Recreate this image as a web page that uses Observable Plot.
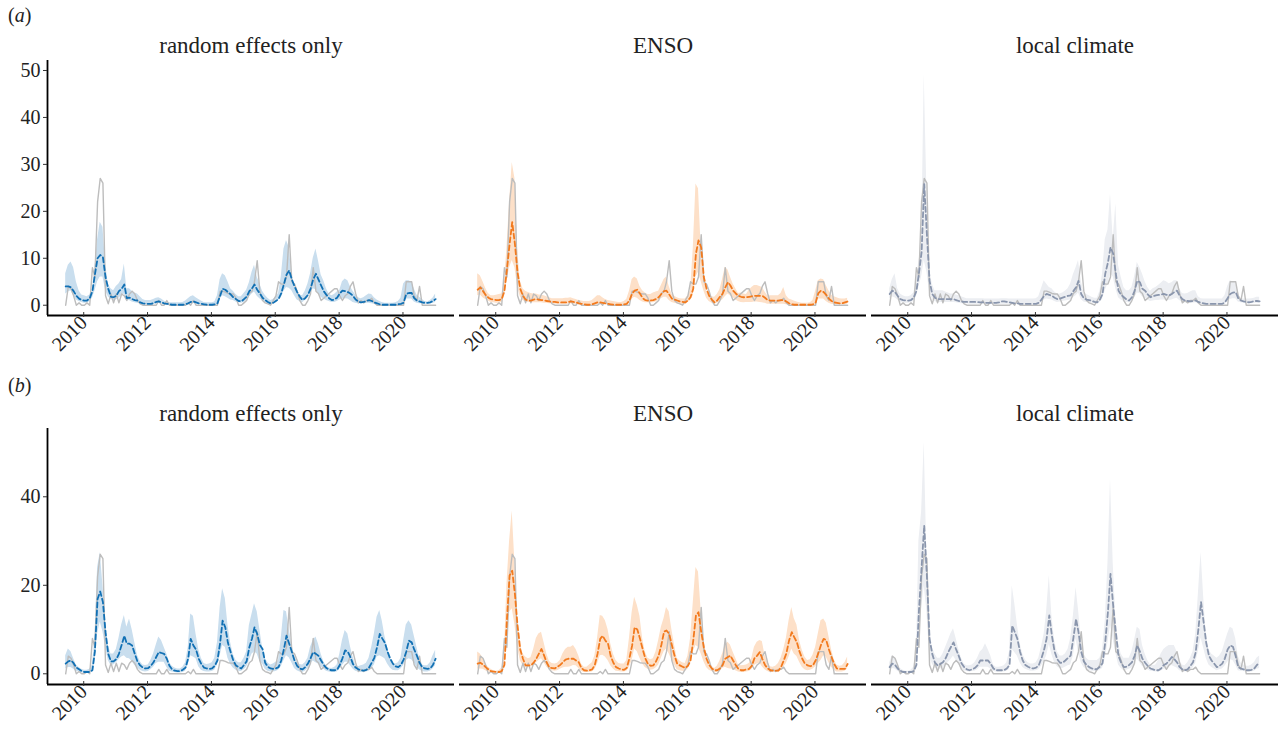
<!DOCTYPE html>
<html><head><meta charset="utf-8">
<script src="https://cdn.jsdelivr.net/npm/d3@7"></script>
<script src="https://cdn.jsdelivr.net/npm/@observablehq/plot@0.6"></script>
<style>
body{margin:0;background:#fff;font-family:"Liberation Serif","Times New Roman",serif;color:#222;}
#wrap{position:relative;width:1280px;height:745px;overflow:hidden;}
.tag{position:absolute;left:8px;font-size:20px;line-height:20px;}
.row{position:absolute;left:0;}
</style></head><body>
<div id="wrap">
<div class="tag" style="top:5px">(<i>a</i>)</div>
<div class="row" id="rowA" style="top:25px"></div>
<div class="tag" style="top:375px">(<i>b</i>)</div>
<div class="row" id="rowB" style="top:393px"></div>
</div>
<script>
// ---- categories / ticks ----
const models = ["random effects only", "ENSO", "local climate"];
const startYear = 2009, startMonth = 3; // April 2009, monthly, 140 months
const nMonths = 140;
const xTickYears = [2010, 2012, 2014, 2016, 2018, 2020];
const yTicksA = [0, 10, 20, 30, 40, 50];
const yTicksB = [0, 20, 40];

// ---- observed cases (same in every panel) ----
const obs = [
0,4,3.5,2,0,0.5,0,0,0.5,0,
8,6,22,27,26,2,0.3,2.4,0.5,2.4,
0.5,2.4,2,1,2.4,3,2.4,1,0.3,0,
0,0,0,0,0,1,0,0,1,0,
0,0,0,0,0,0,0.5,0,1,0,
0,0,0,0,0,0,0,0,3,3,
2.8,2.5,2.4,2.4,1.5,0,0,0.5,1,2.5,
3,5,9.5,3,1,0.5,0.3,0,1,2,
5,4.5,4.5,6,15,5,4.5,3,1,0,
0,1,2.4,8,3,2.5,1,1.5,2,2.5,
3,3.5,3.5,2,1,2,2.5,4,5,2.5,
0.5,1,0.5,1,1,1.5,0.5,0,0,0,
0,0,0,0,0,0,0,0,5,5,
5,2,1,4,0,0,0,0,0,0];

// ---- (a) random effects only ----
const a_re_mean = [
4,4,3.8,3,2,1.4,1.1,1,1,1.5,
3,6.5,10,10.7,10.2,6,3.5,1.8,1.7,2,
3,3.5,4.4,1.5,1.6,1.3,1.1,1,0.6,0.4,
0.3,0.3,0.3,0.4,0.7,0.8,0.6,0.4,0.3,0.2,
0.1,0.1,0.1,0.1,0.1,0.2,0.4,0.7,0.8,0.6,
0.4,0.3,0.2,0.1,0.1,0.1,0.2,0.4,2,3.5,
3.3,2.8,2.3,1.7,1.3,0.9,0.8,1.3,1.8,3,
3.6,4.4,3.3,2.5,1.6,1.1,0.7,0.4,0.5,0.9,
1.3,2.5,4.5,6.5,7.4,5.5,4,2.8,1.8,1.1,
1.5,2.2,3.5,5.5,6.7,5.5,4.2,3,2.2,1.5,
1.1,1.2,1.6,2.5,3.1,3,2.8,2.5,2,1.2,
0.8,0.6,0.7,0.9,1.1,0.9,0.6,0.4,0.2,0.1,
0.1,0.1,0.1,0.1,0.1,0.2,0.3,0.5,2.4,2.6,
2.6,1.5,1,0.8,0.6,0.5,0.5,0.6,0.9,1.3];
const a_re_hi = [
6.7,8.5,9.2,8,5,3.1,2.2,2,1.8,2.2,
3,8,14,17.7,16.6,9,4.5,3.5,3.1,4,
4.5,5.5,8.8,3.5,3.5,3,2.6,2.4,1.8,1.2,
1,1,1,1.2,1.5,1.6,1.3,0.9,0.6,0.5,
0.5,0.5,0.5,0.5,0.6,0.9,1.4,1.8,2,1.6,
1.2,0.9,0.6,0.5,0.5,0.5,0.7,2,5.5,6.7,
6.3,5,3.5,3,2.3,1.8,1.8,2.5,3.2,4.8,
7,8.5,6,4.5,3,2.1,1.5,1,1.2,1.8,
2.5,6,12,13.8,12.3,6.7,4.2,2.8,2.2,2,
3,4.5,6.7,10,12,9.5,6.5,5.2,3.5,2.4,
2,2.3,2.8,3.2,5,5.6,5.2,4,3,2.2,
1.6,1.4,1.6,2,2.4,2.3,1.6,1.1,0.8,0.6,
0.4,0.4,0.4,0.4,0.5,0.8,1.5,4.5,5.2,5.2,
4.9,3.5,2.2,1.7,1.2,0.8,0.7,1,1.5,2.4];
const a_re_lo = [
2.4,2.8,3.1,2,1.1,0.8,0.6,0.4,0.4,0.8,
1.5,3,5,6,6,3.2,1.8,1.2,1,1.1,
1.5,2,2.4,0.9,1,0.7,0.5,0.4,0.3,0.2,
0.1,0.1,0.1,0.2,0.3,0.4,0.3,0.2,0.1,0,
0,0,0,0,0,0.1,0.2,0.3,0.4,0.3,
0.2,0.1,0,0,0,0,0,0.2,1.2,2,
1.8,1.5,1.1,1,0.7,0.5,0.4,0.6,1,1.7,
2.4,2.8,1.9,1.4,0.9,0.6,0.3,0.1,0.3,0.6,
1,1.6,3,3.8,3.6,3.1,2,1.1,0.8,0.5,
1,1.5,2.5,3.5,3.3,2.5,1.7,1.3,1,0.8,
0.6,0.6,0.8,1.1,1.3,1.4,1.3,1,0.6,0.4,
0.3,0.3,0.3,0.4,0.4,0.3,0.2,0.1,0,0,
0,0,0,0,0,0,0,0.3,1.3,1.3,
1.3,0.7,0.4,0.3,0.3,0.2,0.2,0.3,0.4,0.6];

// ---- (a) ENSO ----
const a_enso_mean = [
3.3,3.8,3,2.2,1.6,1.3,1.2,1.1,1.1,1.3,
3,7.5,13,17.7,13,7,3.5,2,1.2,1,
1,1.2,1.3,1.2,1.1,1,0.9,0.8,0.7,0.7,
0.6,0.6,0.6,0.6,0.7,0.8,0.7,0.6,0.4,0.3,
0.2,0.1,0.1,0.2,0.4,0.6,0.6,0.5,0.4,0.3,
0.2,0.1,0.1,0.1,0.1,0.2,0.3,1,2.5,3.1,
3.3,2.5,1.5,1.1,1,1,1.1,1.3,1.7,2.4,
3,3.1,2.3,1.4,1.2,1,0.8,0.7,0.6,1,
1.7,3.5,11,13.8,12.3,6,3.5,2,1.2,0.6,
1,1.8,2.4,3.8,4.9,4.2,3.1,2.5,2,1.8,
1.7,1.7,1.8,1.9,2,2,2,2,1.6,1.1,
1,1,1,1,1.1,1.1,0.8,0.4,0.2,0.1,
0.1,0.1,0.1,0.1,0.1,0.1,0.2,0.5,2.5,3.1,
2.8,2.2,1.4,0.9,0.6,0.5,0.4,0.4,0.6,0.8];
const a_enso_hi = [
6.7,6.3,5,3.6,2.5,2,2,2.1,2.3,2.4,
5,12,22,30.4,27,12.3,5.2,3.5,3,2.7,
2.5,2.4,2.4,2.2,2.1,2,1.8,1.6,1.4,1.4,
1.4,1.4,1.4,1.5,1.5,1.6,1.4,1.2,1,0.9,
0.8,0.8,0.8,1,1.5,2,2,1.6,1.2,1,
0.9,0.8,0.7,0.6,0.6,0.8,1.2,3,5.5,6,
5.6,4,3.1,2.6,2.3,2.3,2.6,2.8,3,4.2,
5.5,6,4,2.4,1.9,1.6,1.4,1.3,1.3,2,
3.1,12,25.8,24.8,12,5,3.1,2.2,1.8,1.7,
2.3,3.3,5.5,8.1,7.5,6,4.5,3.5,2.5,2.6,
2.4,2.3,3.2,3.8,4.2,4.2,4,3.8,2.8,2,
2,2,2,2,2.5,3.8,2,1.3,1.1,0.9,
0.7,0.5,0.4,0.4,0.4,0.5,1,3,5.2,5.6,
5.4,4.2,3.1,2.2,1.8,1.6,1.4,1.3,1.3,1.5];
const a_enso_lo = [
2,2.2,1.6,1.2,0.9,0.6,0.5,0.4,0.4,0.6,
1.7,5,8,9.5,8,4,1.8,1,0.7,0.6,
0.5,0.5,0.5,0.5,0.5,0.4,0.4,0.3,0.3,0.2,
0.2,0.2,0.2,0.2,0.2,0.3,0.2,0.2,0.1,0.1,
0.1,0,0,0.1,0.1,0.2,0.2,0.2,0.1,0.1,
0.1,0,0,0,0,0.1,0.1,0.4,1.3,1.7,
1.5,1,0.7,0.5,0.5,0.5,0.5,0.7,1,1.4,
1.7,1.7,1,0.6,0.4,0.3,0.2,0.1,0.1,0.5,
1,2,6,7,5,3.1,1.5,0.8,0.4,0.2,
0.4,0.8,1.1,1.8,2.4,2,1.6,1.1,0.8,0.6,
0.5,0.6,0.6,0.6,0.7,0.7,0.6,0.5,0.4,0.2,
0.2,0.2,0.2,0.2,0.2,0.2,0.1,0.1,0,0,
0,0,0,0,0,0,0.1,0.2,1.3,1.3,
1.3,0.8,0.4,0.2,0.1,0.1,0.1,0.1,0.1,0.2];

// ---- (a) local climate ----
const a_loc_mean = [
2.4,3.1,2.8,2,1.3,1.1,1,1,1.1,1.6,
3,6.7,11.3,25.8,15,5.2,2.4,1.6,1.3,1.3,
1.3,1.3,1.3,1.3,1.3,1.1,0.9,0.8,0.7,0.7,
0.7,0.7,0.7,0.7,0.6,0.6,0.5,0.5,0.5,0.5,
0.5,0.6,0.8,0.8,0.7,0.6,0.5,0.4,0.4,0.3,
0.3,0.3,0.3,0.3,0.3,0.3,0.5,1.2,2,2.4,
2.2,2,1.6,1.3,1.4,1.6,1.8,2,2.1,3,
3.8,5.2,2.4,1.5,1.2,1.1,0.9,0.7,0.6,1.2,
2.4,6.7,9.1,12.3,11,6.7,3.1,2.2,1.7,1.2,
1,1.7,3,5.2,4.9,3.5,3.1,2.3,1.7,1.9,
2.1,2.2,2.3,2.4,2.2,2.1,2.4,2.8,3.1,2,
1.3,1,0.9,0.8,0.9,1,0.7,0.5,0.4,0.3,
0.3,0.3,0.3,0.3,0.3,0.3,0.6,1.5,2.4,2.7,
2.8,1.5,1,0.8,0.7,0.6,0.7,0.9,0.9,0.8];
const a_loc_hi = [
3.5,5.5,6.7,3.5,2.4,2,1.8,1.8,2,2.6,
5,9.5,12.3,49.2,24,8,4.5,3.1,3.1,3.1,
3.1,2.8,2.6,2.4,2.4,2.2,2,1.8,1.6,1.4,
1.4,1.4,1.4,1.4,1.4,1.4,1.3,1.3,1.3,1.3,
1.3,1.3,1.4,1.4,1.4,1.3,1.3,1.3,1.3,1.3,
1.3,1.3,1.3,1.3,1.3,1.4,1.8,3.5,5.2,4.5,
3.8,3.5,2.8,2.4,2.4,2.6,3,3.5,4.5,6.5,
8,9.5,5.2,2.6,2.3,2,1.7,1.5,1.5,3,
6.7,14,16,23.7,14,21.6,8.5,6,3.8,3.1,
3.1,3.8,6,9.1,8,6.7,5,3.8,3,3.5,
3.8,4.2,4.7,5.2,5,4.6,4.8,5.2,5.2,3.5,
2.5,2.4,2.5,2.8,3.1,3.1,1.8,1.4,1.3,1.3,
1.3,1.3,1.3,1.3,1.3,1.3,2,4,5.2,5,
4.8,2.5,1.5,1.3,1.3,1.3,1.4,1.5,1.7,1.7];
const a_loc_lo = [
1.3,1.8,1.6,1.1,0.6,0.5,0.4,0.4,0.5,0.8,
1.8,3.8,6,9.5,7,2.8,1.3,0.8,0.6,0.6,
0.6,0.6,0.6,0.6,0.6,0.5,0.4,0.3,0.3,0.3,
0.2,0.2,0.2,0.2,0.2,0.2,0.2,0.2,0.2,0.2,
0.2,0.2,0.2,0.2,0.2,0.2,0.2,0.2,0.2,0.2,
0.2,0.2,0.2,0.2,0.2,0.2,0.2,0.5,1.1,1.3,
1.2,1.1,0.8,0.6,0.7,0.8,0.9,1,1.1,1.6,
2,2.6,1.2,0.7,0.6,0.5,0.4,0.3,0.3,0.6,
1.2,3.1,4.5,6.7,6,3.5,1.6,1.1,0.8,0.6,
0.5,0.8,1.5,2.6,2.5,1.8,1.5,1.1,0.8,0.9,
1,1,1.1,1.1,1,1,1.1,1.3,1.5,1,
0.6,0.5,0.4,0.4,0.4,0.5,0.3,0.2,0.1,0.1,
0.1,0.1,0.1,0.1,0.1,0.1,0.3,0.7,1.2,1.4,
1.4,0.7,0.5,0.4,0.3,0.3,0.3,0.4,0.4,0.4];

// ---- (b) random effects only ----
const b_re_mean = [
2.3,2.8,3,2.4,1.4,1,0.6,0.4,0.4,0.4,
0.8,5,16.9,18.6,16.2,9.4,4.5,2.8,2.8,3.3,
4.5,6.5,8.6,6.8,6.8,6.4,4.5,2.8,1.9,1.4,
1.2,1.3,1.8,2.6,3.8,4.9,4.7,4.5,3.4,1.8,
1,0.7,0.6,0.6,0.9,1.4,3.5,7.9,6.4,5.5,
3.4,2.2,1.4,1.2,1.1,1.2,1.8,3,7,12,
10.5,7,4.9,3,1.9,1.5,1.2,2,2.8,6,
8,10.5,9,6.5,5.6,2.5,1.6,1.2,1.1,1.2,
1.5,3,5.6,8.6,6.8,5,3,1.8,1.2,1,
1.5,2.3,3.5,4.9,4.5,4.1,3,2,1.3,0.9,
0.8,0.8,0.9,2,3.5,5.3,5,3.8,2.2,1.4,
1,0.8,0.7,0.9,1.4,2.5,3.6,6,9,8,
7,5,3.4,2.3,1.7,1.5,2,3.2,5,7.5,
7.1,5.5,4.1,2.5,1.5,1.2,1.1,1.2,2,3.4];
const b_re_hi = [
4.1,5.6,5,3.4,2,1.4,1,0.8,0.8,1,
2,8,24,27.4,20,12,6.5,4.5,4.5,5.5,
8,11,13.2,10.5,12.4,10,7,4.2,2.8,2,
1.9,2,3,4.5,6.5,8.3,7.5,6,4.5,2.6,
1.7,1.3,1.1,1.1,1.5,2.5,6,13.5,13,9,
5.5,3.5,2.3,2.1,2.2,2.5,3.5,7,15,19.2,
17,11,7,4.4,3,2.5,2.5,3.5,5,10.9,
13.5,15.8,14,10,6,3.5,2.5,2,2.2,2.6,
3,8,14.3,14,10,6.7,4,2.8,2.1,2,
2.5,3.5,6,7.6,8.3,6.8,4.5,2.8,1.7,1.3,
1.2,1.4,2,4.5,7.5,9.8,9,6.3,3.8,2,
1.6,1.8,2,2.4,3.5,6,9,12.8,14.3,12,
8.5,6,3.5,2.3,2.2,2.5,3.5,7.5,11,12,
11,8.6,6,3.5,2,1.8,1.8,2.5,4,5.3];
const b_re_lo = [
1.1,1.4,1.4,1,0.6,0.4,0.2,0.2,0.2,0.2,
0.4,3,9,11.7,9.5,6,3,1.9,2,2.5,
3.2,3.8,4.1,3.5,3.4,2.8,1.9,1.3,0.8,0.5,
0.4,0.5,0.9,1.5,2.3,2.6,2.6,2.6,1.5,0.6,
0.4,0.3,0.2,0.2,0.3,0.6,2,4.1,3.8,3.4,
1.6,0.8,0.5,0.4,0.4,0.5,0.8,2,4.1,6.4,
6,3.5,2.1,1.3,0.8,0.6,0.5,0.9,1.5,3,
4.5,4.9,4.5,2.8,2.2,1,0.6,0.4,0.4,0.5,
0.8,1.6,3,4.1,3.6,2.5,1.2,0.7,0.4,0.3,
0.6,1.2,2.2,2.9,2.5,2.2,1.6,1.1,0.6,0.4,
0.3,0.3,0.4,1,1.9,2.6,2.6,1.9,1.1,0.6,
0.4,0.3,0.3,0.4,0.6,1.2,2,3.8,4.1,3.8,
3.4,2.2,1.3,0.8,0.7,0.7,1.1,1.9,3,3.4,
3.2,2.5,1.5,0.9,0.5,0.4,0.4,0.6,1.1,1.9];

// ---- (b) ENSO ----
const b_enso_mean = [
2.3,2.5,2.1,1.5,1,0.6,0.5,0.4,0.4,0.6,
2,12,22.2,23.3,18,10.9,5.5,3.4,1.9,1.9,
1.9,2.5,3.4,4.5,5.6,4.1,2.5,1.4,1.3,1.2,
1.6,2,2.6,3.2,3.4,3.4,3.4,3,2.6,1.3,
0.8,0.7,0.8,1,2,4.5,7.9,8.6,7.5,6.8,
4,2.5,1.5,1.2,1,0.9,1.3,3.5,6.4,10.5,
10,8,5.6,3.5,2.2,1.8,1.9,2.8,4.1,6.5,
9.5,9.8,9,6.5,4.1,2.3,1.9,1.6,1.3,1.8,
3,7.5,13.2,13.9,9.5,6,3.4,2,1.2,0.8,
0.8,1.2,1.9,3.4,3.8,4.1,3,2,1.1,0.8,
0.8,1,1.1,1.8,3.5,4.1,4.9,3.4,2,1.2,
0.8,0.7,0.7,0.7,1.5,3,4.6,7.5,9.4,8.3,
7.1,5,3.4,2.3,1.9,1.7,1.9,3,4.6,6.5,
7.9,7.6,5.5,3.8,2.2,1.2,1.1,1.1,1.1,2.2];
const b_enso_hi = [
4.9,4.5,3.5,2.2,1.5,1,0.7,0.6,0.7,1.3,
5,20,30,36.8,25,13,7,4.5,3.8,3.4,
3.6,5.5,8,9,9.4,7,4.5,2.8,2.3,2.2,
2.4,3,4.5,5.5,6,6,6.4,5.5,4,2.2,
1.5,1.5,2,2.5,4,8,13.2,13,12,10,
6.8,4.5,3,2.3,2.2,2.2,3,8,13.9,17.3,
15.5,13,8,5,3.5,3.2,3.4,5,7.5,10.5,
12.5,15,14,10,6.5,3.5,2.9,2.5,2.3,4,
8,16,24,23,14,8,4,2.6,1.7,1.2,
1.7,2.9,4.5,6.5,7.1,6.5,4.9,3.5,2,1.8,
1.9,2,2.3,3.5,6,7.1,7.5,7.3,4.2,2.5,
1.6,1.5,1.7,2.3,3.5,5.5,8,12,15,12.5,
11,7.5,5.3,3.8,3,3.2,4.2,6,9,12,
12.4,11.5,8.5,5.5,3.2,2,1.7,1.8,2.5,3.8];
const b_enso_lo = [
1.1,1.1,1,0.7,0.4,0.3,0.2,0.2,0.2,0.3,
1,7,13.9,14.7,11,6,3,1.9,1.3,1.4,
1.5,2,2.5,3,3.4,2.5,1.5,0.9,0.7,0.6,
0.7,1,1.3,1.5,1.5,1.6,1.9,1.8,1.2,0.6,
0.3,0.3,0.3,0.4,0.9,2.2,4.1,4.2,3.8,3,
1.8,1.1,0.6,0.5,0.4,0.4,0.6,1.5,3,5.6,
5,3.5,2.2,1.4,1,0.8,0.9,1.3,2,3.5,
5,5.6,4.5,3.2,2,0.9,0.7,0.6,0.5,1,
2.3,5,6.4,6,4.5,2.8,1.4,0.8,0.5,0.3,
0.3,0.6,1.2,1.5,1.2,1.1,1,0.7,0.4,0.3,
0.3,0.4,0.5,0.9,1.9,2.2,2.4,1.6,0.9,0.5,
0.3,0.3,0.3,0.3,0.7,1.5,2.3,3.8,5.6,4.5,
3.9,2.6,1.5,0.9,0.7,0.8,1,1.6,2.3,3,
4.1,3.8,2.5,1.5,0.8,0.4,0.4,0.4,0.6,1.1];

// ---- (b) local climate ----
const b_loc_mean = [
1.5,2.3,2,1.2,0.7,0.4,0.4,0.4,0.4,0.6,
2,14,24,33.5,22,7.9,4.5,2.5,1.9,2.2,
2.6,3.5,4.9,6,7.1,5.5,4,2.4,1.5,1,
0.8,1,1.3,1.9,3,3,3,3,2.2,1.2,
0.8,0.8,0.8,0.8,1.2,2,10.9,9.5,7.9,5,
3,2,1.6,1.3,1.2,1.4,1.9,3.5,5.5,7.9,
13.2,8.6,5,3.3,2.5,2.5,3,3.6,4.1,8,
12.4,9.4,5,2.8,2,1.5,1.2,1,1.1,1.6,
2.4,7.1,14,22.6,15.4,9.4,4,2.5,1.5,1.6,
2,2.6,4,6.4,5,3.4,2.5,1.8,1.2,1,
0.8,0.8,1.2,2,2.3,3,3.8,3.3,2.6,1.5,
1,0.8,1,1.8,2.6,4.9,10,16.2,11.5,7,
4.1,3,2.3,1.5,1.8,2.3,3.5,5.5,6.4,6.1,
4,1.5,1.2,1,0.8,0.8,0.9,1.2,2,2.5];
const b_loc_hi = [
2.5,4.1,3.5,2,1.2,0.8,0.6,0.6,0.8,1.5,
5,30,36.5,52.3,26,11,6,4.5,3.5,3.5,
4.5,6,7.5,9,10.2,8,5.5,3.5,2.2,1.8,
1.8,2,2.5,3.5,4.9,5.5,6.8,5.5,4,2,
1.5,1.5,1.6,1.8,2.5,5,19.9,16,11,7,
4.5,3.2,2.5,2.2,2.2,2.5,3.5,6,9,14,
22.2,13,7.5,5,4,4,4.5,5.5,7.9,13,
19.5,14.5,8,4.5,3.5,3,3,3,3,3.5,
5.5,12,25,44,25,13,7,4.5,3.5,3.5,
3.5,5,7.5,10.5,10,6.5,4.5,3,2,1.8,
2,3,4.5,5.5,6,6.4,6.4,6.4,5,3,
2,1.8,2.5,3.5,5,9,18,27.4,17,9,
5.5,4.5,4,3.5,4,5,7,9,10.5,10.2,
8,4,2.5,2,1.7,1.7,2,2.5,3.5,4];
const b_loc_lo = [
0.8,1.2,1.1,0.6,0.3,0.2,0.2,0.2,0.2,0.3,
1,7,14.7,19.9,14,4,2.2,1.3,1,1.1,
1.3,1.8,2.6,3.2,4,3,2,1.2,0.7,0.5,
0.4,0.5,0.6,0.9,1.5,1.5,1.5,1.5,1.1,0.6,
0.4,0.4,0.4,0.4,0.6,1,5.5,4.8,4,2.5,
1.5,1,0.8,0.6,0.6,0.7,0.9,1.7,2.8,4,
6.6,4.3,2.5,1.6,1.2,1.2,1.5,1.8,2,4,
7.9,4.7,2.5,1.4,1,0.7,0.6,0.5,0.5,0.8,
1.2,3.4,7,10.9,7.7,4.7,2,1.2,0.7,0.8,
1,1.3,2,3.4,2.5,1.7,1.2,0.9,0.6,0.5,
0.4,0.4,0.6,1,1.1,1.5,1.9,1.6,1.3,0.7,
0.5,0.4,0.5,0.9,1.3,2.4,5,8.1,5.7,3.5,
2,1.5,1.1,0.7,0.9,1.1,1.7,2.6,3.2,3,
2,0.7,0.6,0.5,0.4,0.4,0.4,0.6,1,1.2];

// ---- styling ----
const lineColors = ["#1170b4", "#f27a1e", "#8a96ad"];
const fillColors = ["#c9deee", "#fde0c8", "#eceef2"];
const obsColor = "#bdbdbd";
const font = "'Liberation Serif','Times New Roman',serif";

const months = d3.range(nMonths).map(i => new Date(Date.UTC(startYear, startMonth + i, 1)));
const xDomain = [new Date(Date.UTC(2008, 8, 5)), new Date(Date.UTC(2021, 5, 5))];
const xTicks = xTickYears.map(y => new Date(Date.UTC(y, 0, 1)));

function build(means, los, his) {
  const out = [];
  models.forEach((m, k) => {
    for (let i = 0; i < nMonths; i++) {
      out.push({model: m, date: months[i], mean: means[k][i], lo: los[k][i], hi: his[k][i], obs: obs[i]});
    }
  });
  return out;
}

function makeRow(data, yDomain, yTicks, height) {
  const marks = [];
  models.forEach((m, k) => {
    const d = data.filter(r => r.model === m);
    marks.push(Plot.areaY(d, {x: "date", y1: "lo", y2: "hi", fx: "model", fill: fillColors[k], curve: "linear"}));
  });
  models.forEach((m, k) => {
    const d = data.filter(r => r.model === m);
    marks.push(Plot.lineY(d, {x: "date", y: "obs", fx: "model", stroke: obsColor, strokeWidth: 1.4}));
  });
  models.forEach((m, k) => {
    const d = data.filter(r => r.model === m);
    marks.push(Plot.lineY(d, {x: "date", y: "mean", fx: "model", stroke: lineColors[k], strokeWidth: 1.8, strokeDasharray: "5,3"}));
  });
  marks.push(Plot.ruleY([yDomain[0]], {stroke: "#000", strokeWidth: 1.8}));
  marks.push(Plot.ruleX([{fx: models[0], x: xDomain[0]}], {x: "x", fx: "fx", stroke: "#000", strokeWidth: 1.8}));
  marks.push(Plot.axisX({ticks: xTicks, tickFormat: d3.utcFormat("%Y"), tickRotate: -45, tickSize: 5, tickPadding: 2, dx: -6, dy: -3, label: null, fontSize: 20, stroke: "#333"}));
  marks.push(Plot.axisY({ticks: yTicks, tickSize: 4, tickPadding: 3, label: null, fontSize: 20, stroke: "#333"}));
  marks.push(Plot.axisFx({anchor: "top", label: null, tickSize: 0, tickPadding: 8, fontSize: 23}));
  return Plot.plot({
    width: 1280, height,
    marginLeft: 46, marginRight: 0, marginTop: 35, marginBottom: 40,
    style: {fontFamily: font, fontSize: "20px", color: "#222", background: "transparent", overflow: "visible"},
    fx: {domain: models, paddingInner: 0.0121, paddingOuter: 0, label: null},
    x: {type: "utc", domain: xDomain},
    y: {domain: yDomain},
    marks
  });
}

const dataA = build([a_re_mean, a_enso_mean, a_loc_mean], [a_re_lo, a_enso_lo, a_loc_lo], [a_re_hi, a_enso_hi, a_loc_hi]);
const dataB = build([b_re_mean, b_enso_mean, b_loc_mean], [b_re_lo, b_enso_lo, b_loc_lo], [b_re_hi, b_enso_hi, b_loc_hi]);

document.getElementById("rowA").appendChild(makeRow(dataA, [-2.19, 52.13], yTicksA, 330));
document.getElementById("rowB").appendChild(makeRow(dataB, [-2.42, 55.43], yTicksB, 331));
</script>
</body></html>
